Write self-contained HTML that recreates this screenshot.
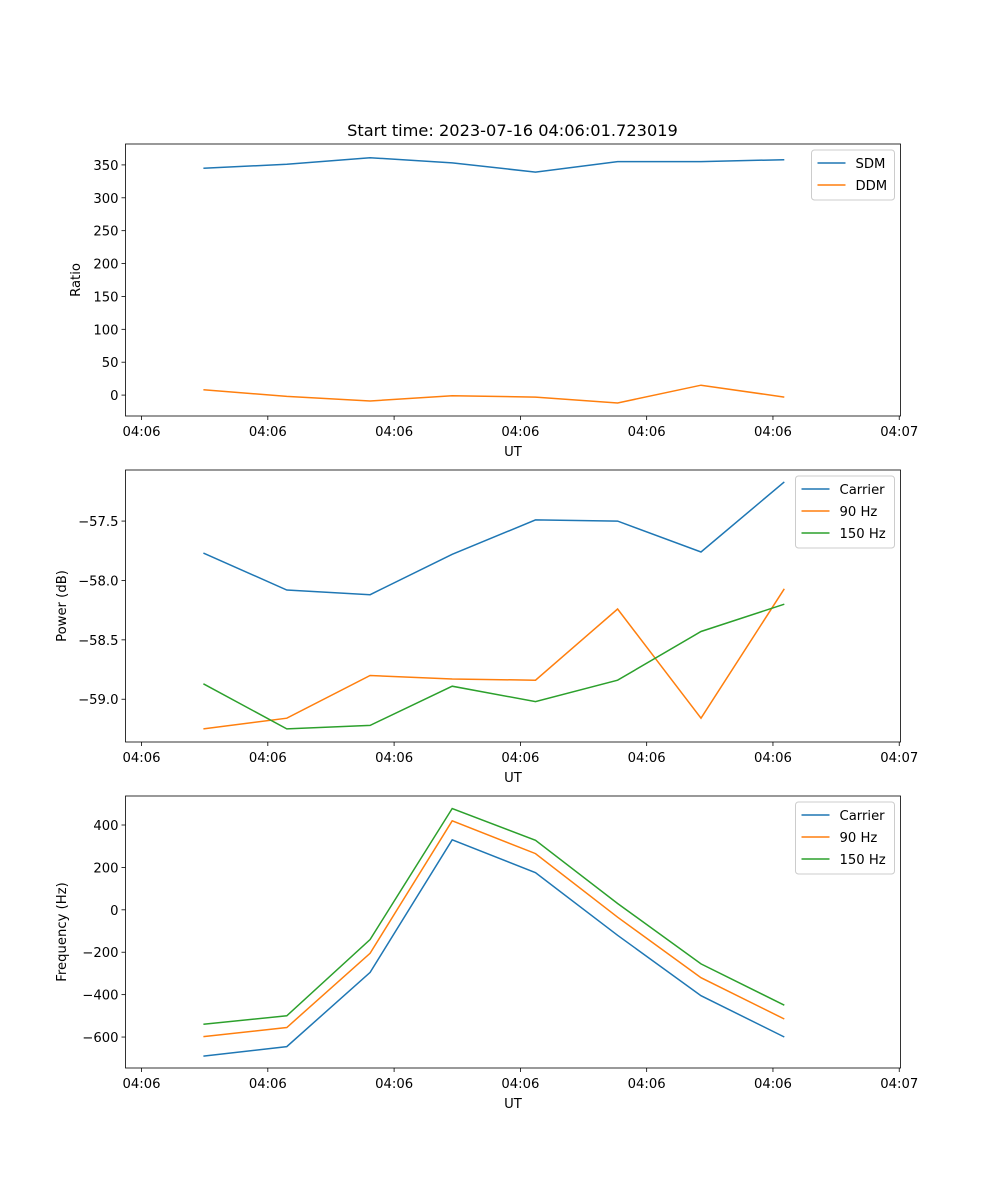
<!DOCTYPE html>
<html><head><meta charset="utf-8"><style>
body{margin:0;background:#fff}
svg{display:block;font-family:"DejaVu Sans","Liberation Sans",sans-serif}
</style></head><body>
<svg id="fig" width="1000" height="1200">
<text x="512.5" y="136" font-size="16.2" text-anchor="middle">Start time: 2023-07-16 04:06:01.723019</text>
</svg>
<script>
const times = [4.9, 11.5, 18.1, 24.6, 31.2, 37.7, 44.3, 50.9];
const xTickVals = [0, 10, 20, 30, 40, 50, 60];
const xTickLabels = ["04:06","04:06","04:06","04:06","04:06","04:06","04:07"];
const sdm = [345, 351, 361, 353, 339, 355, 355, 358];
const ddm = [8, -2, -9, -1, -3, -12, 15, -3];
const pCarrier = [-57.77, -58.08, -58.12, -57.78, -57.49, -57.50, -57.76, -57.17];
const p90 = [-59.25, -59.16, -58.80, -58.83, -58.84, -58.24, -59.16, -58.07];
const p150 = [-58.87, -59.25, -59.22, -58.89, -59.02, -58.84, -58.43, -58.20];
const fCarrier = [-690, -645, -295, 330, 175, -120, -405, -600];
const f90 = [-598, -555, -205, 420, 265, -35, -320, -515];
const f150 = [-540, -500, -140, 478, 328, 30, -255, -450];
const ticks1 = [0, 50, 100, 150, 200, 250, 300, 350];
const ticks2 = [-59.0, -58.5, -58.0, -57.5];
const ticks2Labels = ["\u221259.0","\u221258.5","\u221258.0","\u221257.5"];
const ticks3 = [-600, -400, -200, 0, 200, 400];
const ticks3Labels = ["\u2212600","\u2212400","\u2212200","0","200","400"];

const NS = "http://www.w3.org/2000/svg";
const svg = document.getElementById('fig');
function mk(tag, attrs, parent){const e=document.createElementNS(NS,tag);for(const k in attrs)e.setAttribute(k,attrs[k]);(parent||svg).appendChild(e);return e;}
const L=125.5,R=900.5;
const xDom=[-1.27,60.1];
const xs=v=>L+(v-xDom[0])/(xDom[1]-xDom[0])*(R-L);
const C=['#1f77b4','#ff7f0e','#2ca02c'];
const FS=13.2;

function panel(id,T,B,yDom,ticks,tlabels,ylabel,series,names,legendW){
  const g=mk('g',{});
  
  
  const ys=v=>B-(v-yDom[0])/(yDom[1]-yDom[0])*(B-T);
  ticks.forEach((t,i)=>{
    const y=ys(t);
    mk('line',{x1:L-4,x2:L,y1:y,y2:y,stroke:'#000','stroke-width':0.8},g);
    const tx=mk('text',{x:L-7,y:y+5,'font-size':FS,'text-anchor':'end'},g);
    tx.textContent=tlabels[i];
    
    
  });
  xTickVals.forEach((t,i)=>{
    const x=xs(t);
    mk('line',{x1:x,x2:x,y1:B,y2:B+4,stroke:'#000','stroke-width':0.8},g);
    const tx=mk('text',{x:x,y:B+20,'font-size':FS,'text-anchor':'middle'},g);
    tx.textContent=xTickLabels[i];
    
    
  });
  const xl=mk('text',{x:(L+R)/2,y:B+40,'font-size':FS,'text-anchor':'middle'},g);
  xl.textContent='UT';
  
  
  const yl=mk('text',{x:0,y:0,'font-size':FS,'text-anchor':'middle',transform:`translate(${id==='ratio'?80:66},${(T+B)/2}) rotate(-90)`},g);
  yl.textContent=ylabel;
  
  
  series.forEach((s,k)=>{
    const p=mk('polyline',{points:s.map((v,i)=>xs(times[i]).toFixed(1)+','+ys(v).toFixed(1)).join(' '),fill:'none',stroke:C[k],'stroke-width':1.5},g);
    
    
  });
  mk('rect',{x:L,y:T,width:R-L,height:B-T,fill:'none',stroke:'#000','stroke-width':0.8},g);
  const lh=names.length*22+6, lx=R-6-legendW, ly=T+6;
  const lg=mk('g',{},g);
  
  
  mk('rect',{x:lx,y:ly,width:legendW,height:lh,rx:3,fill:'#fff',stroke:'#ccc','stroke-width':1},lg);
  names.forEach((n,k)=>{
    const y=ly+13+k*22;
    mk('line',{x1:lx+6,x2:lx+34,y1:y,y2:y,stroke:C[k],'stroke-width':1.5},lg);
    const t=mk('text',{x:lx+44,y:y+5,'font-size':FS},lg);
    t.textContent=n;
    
    
  });
}
panel('ratio',144,416,[-31.8,381.8],ticks1,ticks1.map(String),'Ratio',[sdm,ddm],['SDM','DDM'],83);
panel('power',470,742,[-59.36,-57.07],ticks2,ticks2Labels,'Power (dB)',[pCarrier,p90,p150],['Carrier','90 Hz','150 Hz'],99);
panel('freq',796,1068,[-746,536.8],ticks3,ticks3Labels,'Frequency (Hz)',[fCarrier,f90,f150],['Carrier','90 Hz','150 Hz'],99);
</script>
</body></html>
